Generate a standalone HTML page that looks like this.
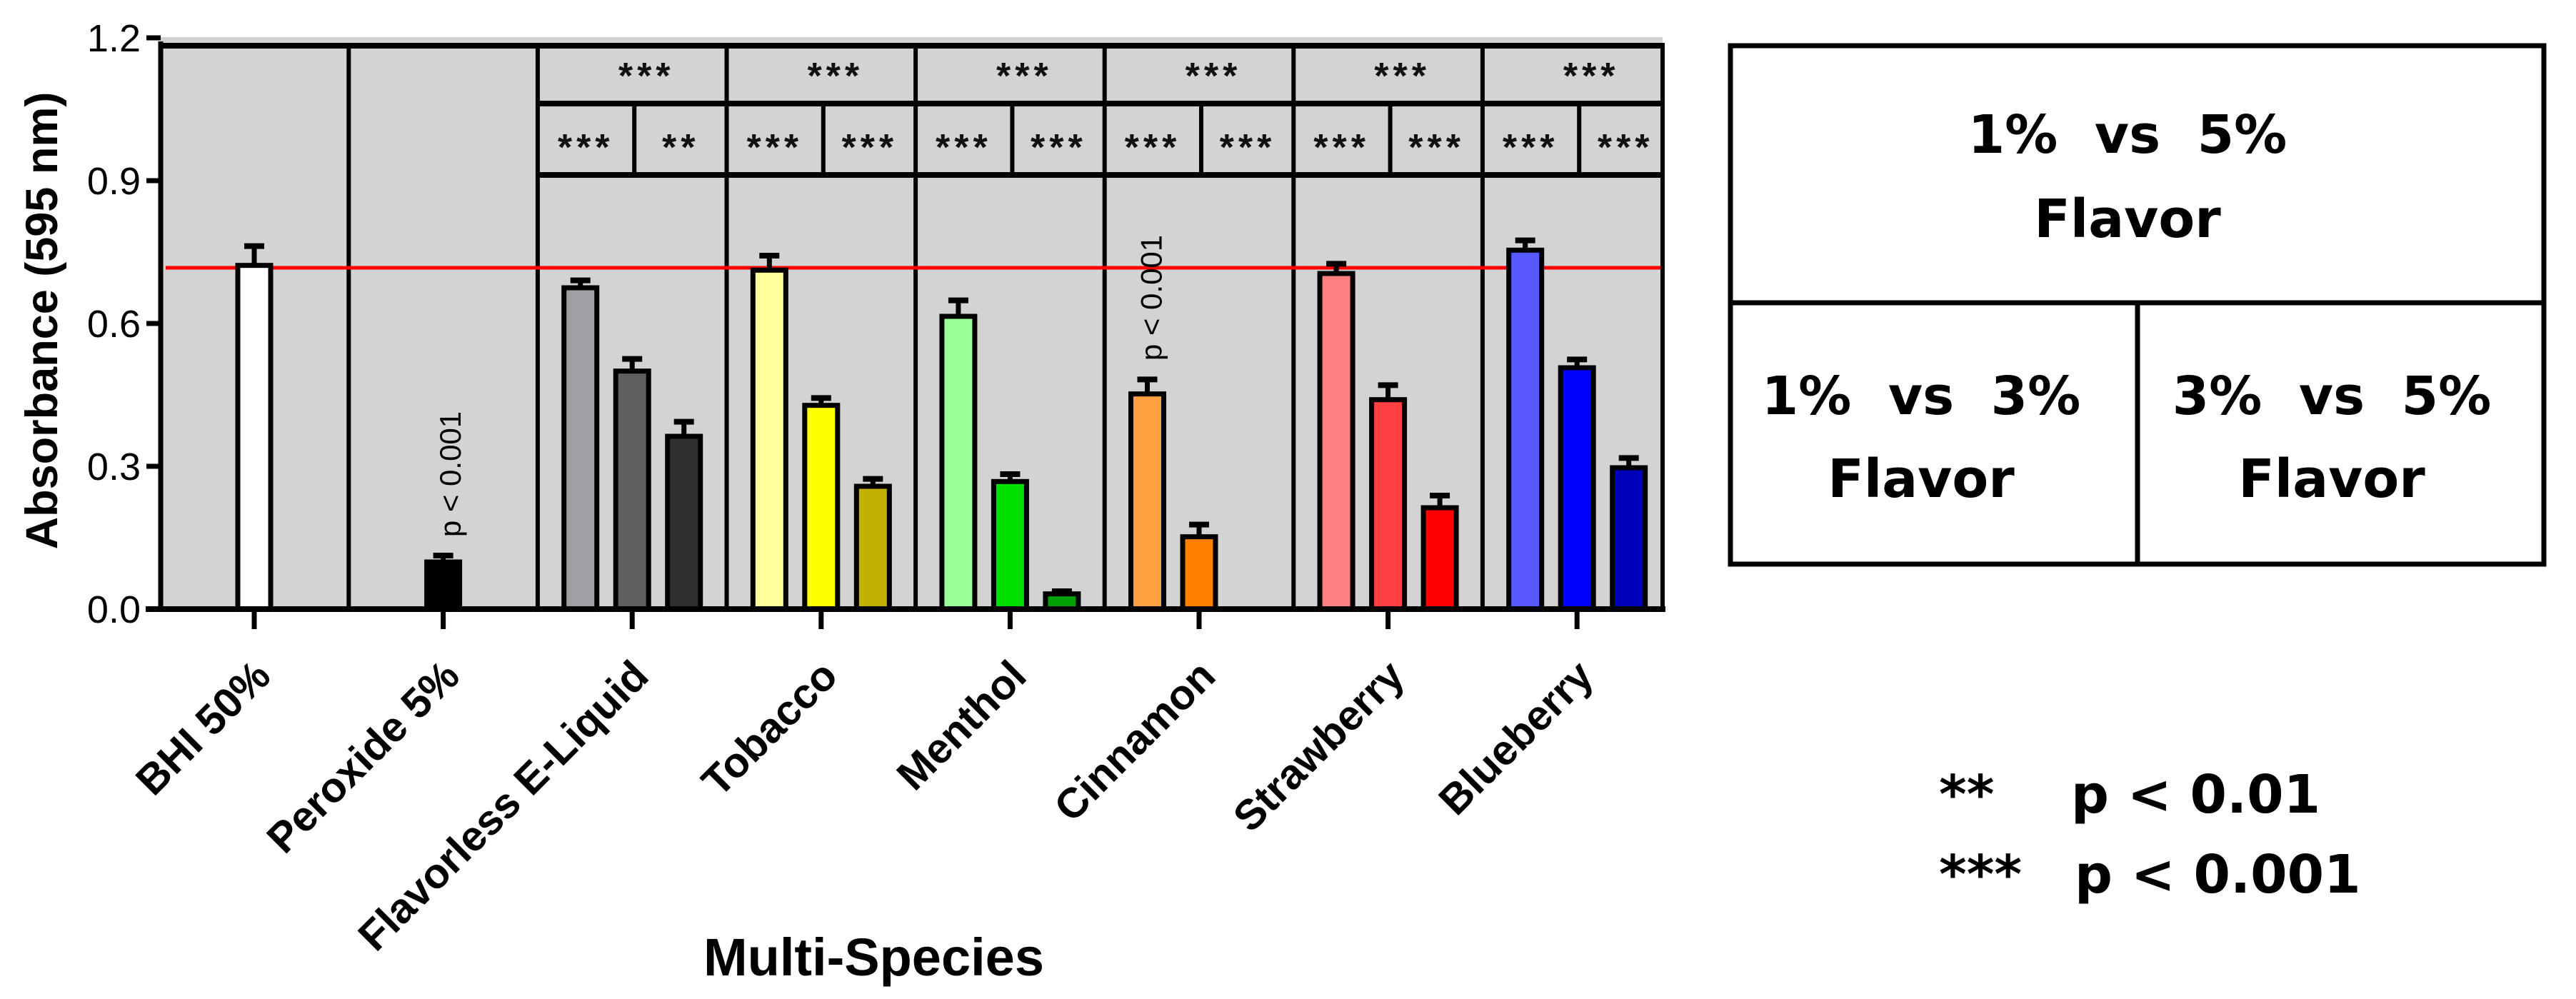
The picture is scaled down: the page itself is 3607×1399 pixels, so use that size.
<!DOCTYPE html>
<html><head><meta charset="utf-8"><style>
html,body{margin:0;padding:0;background:#fff;}
svg{display:block;font-family:"Liberation Sans",Arial,sans-serif;}
</style></head><body>
<svg id="chart" width="3607" height="1399" viewBox="0 0 3607 1399" xmlns="http://www.w3.org/2000/svg">
<g id="plot"></g>
<g id="legend">
  <rect x="2423" y="64" width="1139" height="726" fill="#fff" stroke="#000" stroke-width="7"/>
  <line x1="2423" y1="424" x2="3562" y2="424" stroke="#000" stroke-width="7"/>
  <line x1="2993" y1="424" x2="2993" y2="790" stroke="#000" stroke-width="7"/>
  <g font-weight="bold" font-size="74" text-anchor="middle" fill="#000" style="font-family:'DejaVu Sans','Liberation Sans',sans-serif">
    <text x="2979" y="214" xml:space="preserve">1%  vs  5%</text>
    <text x="2979" y="332">Flavor</text>
    <text x="2690" y="580" xml:space="preserve">1%  vs  3%</text>
    <text x="2690" y="696">Flavor</text>
    <text x="3265" y="580" xml:space="preserve">3%  vs  5%</text>
    <text x="3265" y="696">Flavor</text>
  </g>
  <g font-weight="bold" font-size="74" fill="#000" style="font-family:'DejaVu Sans','Liberation Sans',sans-serif">
    <text x="2715" y="1138">**</text>
    <text x="2900" y="1138">p &lt; 0.01</text>
    <text x="2715" y="1250">***</text>
    <text x="2905" y="1250">p &lt; 0.001</text>
  </g>
</g>
</svg>
<script>
const categories = ["BHI 50%","Peroxide 5%","Flavorless E-Liquid","Tobacco","Menthol","Cinnamon","Strawberry","Blueberry"];
const values1 = [0.722, 0.099, 0.675, 0.712, 0.615, 0.452, 0.705, 0.754];
const values3 = [null, null, 0.500, 0.428, 0.268, 0.152, 0.440, 0.507];
const values5 = [null, null, 0.363, 0.258, 0.032, null, 0.213, 0.297];
const errors1 = [0.045, 0.018, 0.020, 0.035, 0.038, 0.035, 0.025, 0.025];
const errors3 = [null, null, 0.030, 0.020, 0.020, 0.030, 0.035, 0.022];
const errors5 = [null, null, 0.035, 0.020, 0.010, null, 0.030, 0.025];
const colors1 = ["#ffffff","#000000","#a0a0a4","#ffff99","#99ff99","#ffa040","#ff8080","#5858ff"];
const colors3 = [null,null,"#606060","#ffff00","#00e000","#ff8000","#ff4040","#0000ff"];
const colors5 = [null,null,"#303030","#c0b000","#00a000",null,"#ff0000","#0000bb"];
const yTicks = [0, 0.3, 0.6, 0.9, 1.2];
const yTickLabels = ["0.0","0.3","0.6","0.9","1.2"];
const refValue = 0.717;
const sigTop = [null,null,"***","***","***","***","***","***"];
const sig13 = [null,null,"***","***","***","***","***","***"];
const sig35 = [null,null,"**","***","***","***","***","***"];
const pNotes = [null,"p < 0.001",null,null,null,"p < 0.001",null,null];

const NS="http://www.w3.org/2000/svg";
const plot=document.getElementById('plot');
const X0=225, X1=2328, Y0=853, YTOP=52;
const yScale=v=>Y0-(v/1.2)*(Y0-53);
const step=264.6, first=356;
const xCenter=i=>first+step*i;
function mk(tag,attrs,parent){const e=document.createElementNS(NS,tag);for(const k in attrs)e.setAttribute(k,attrs[k]);(parent||plot).appendChild(e);return e;}

let bg=mk('rect',{x:X0,y:YTOP,width:X1-X0,height:Y0-YTOP,fill:'#d3d3d3'});



for(let i=1;i<categories.length;i++){
  const x=xCenter(i)-step/2;
  const d=mk('line',{x1:x,y1:64,x2:x,y2:Y0,stroke:'#000','stroke-width':6});
  
  
}
let tb=mk('line',{x1:X0,y1:64,x2:X1+3,y2:64,stroke:'#000','stroke-width':8});


let rb=mk('line',{x1:X1,y1:64,x2:X1,y2:Y0,stroke:'#000','stroke-width':6});


const sigStart=xCenter(2)-step/2;
for(const yy of [145,245]){
  const l=mk('line',{x1:sigStart,y1:yy,x2:X1,y2:yy,stroke:'#000','stroke-width':8});
  
  
}
function stars(txt,x,y,name){
  const t=mk('text',{x:x,y:y,'text-anchor':'middle','font-size':52,'font-weight':'bold','letter-spacing':6,fill:'#111'});
  t.textContent=txt;
  
  
}
for(let i=0;i<categories.length;i++){
  if(!sigTop[i])continue;
  const c=xCenter(i);
  const sp=mk('line',{x1:c+3,y1:145,x2:c+3,y2:245,stroke:'#000','stroke-width':6});
  
  
  stars(sigTop[i],c+20,124,'sig-1v5-'+i);
  stars(sig13[i],c-65,224,'sig-1v3-'+i);
  stars(sig35[i],c+68,224,'sig-3v5-'+i);
}

let rl=mk('line',{x1:232,y1:yScale(refValue),x2:X1-3,y2:yScale(refValue),stroke:'#ff0000','stroke-width':5});



function bar(x,v,err,color,name){
  if(v==null)return;
  const top=yScale(v), etop=yScale(v+err);
  const r=mk('rect',{x:x-23,y:top,width:46,height:Y0-top,fill:color,stroke:'#000','stroke-width':7});
  
  
  const e=mk('line',{x1:x,y1:top,x2:x,y2:etop,stroke:'#000','stroke-width':7});
  
  
  const cap=mk('line',{x1:x-14,y1:etop+3,x2:x+14,y2:etop+3,stroke:'#000','stroke-width':8});
  
  
}
for(let i=0;i<categories.length;i++){
  const c=xCenter(i);
  if(values3[i]==null&&values5[i]==null&&i<2){bar(c,values1[i],errors1[i],colors1[i],'bar-'+i+'-single');continue;}
  bar(c-72.5,values1[i],errors1[i],colors1[i],'bar-'+i+'-1pct');
  bar(c,values3[i],errors3[i],colors3[i],'bar-'+i+'-3pct');
  bar(c+72.5,values5[i],errors5[i],colors5[i],'bar-'+i+'-5pct');
}

for(let i=0;i<categories.length;i++){
  if(!pNotes[i])continue;
  const x=xCenter(i)+(i===1?10:-67), y=i===1?664:417;
  const t=mk('text',{x:x,y:y,'font-size':42,'text-anchor':'middle',fill:'#000',transform:'rotate(-90 '+x+' '+y+')','dominant-baseline':'central'});
  t.textContent=pNotes[i];
  
  
}

let ya=mk('line',{x1:X0,y1:YTOP+6,x2:X0,y2:Y0+4,stroke:'#000','stroke-width':7});


let xa=mk('line',{x1:X0-21,y1:Y0,x2:X1+4,y2:Y0,stroke:'#000','stroke-width':8});


for(let k=0;k<yTicks.length;k++){
  const y=yScale(yTicks[k]);
  const t=mk('line',{x1:X0-20,y1:y,x2:X0,y2:y,stroke:'#000','stroke-width':7});
  
  
  const l=mk('text',{x:197,y:y+19,'text-anchor':'end','font-size':54,fill:'#000'});
  l.textContent=yTickLabels[k];
  
  
}
for(let i=0;i<categories.length;i++){
  const c=xCenter(i);
  const t=mk('line',{x1:c,y1:Y0,x2:c,y2:Y0+28,stroke:'#000','stroke-width':7});
  
  
  const ax=c+26, ay=950;
  const l=mk('text',{x:ax,y:ay,'text-anchor':'end','font-size':59,'font-weight':'bold',fill:'#000',transform:'rotate(-45 '+ax+' '+ay+')'});
  l.textContent=categories[i];
  
  
}
let yt=mk('text',{x:80,y:449,'text-anchor':'middle','font-size':63,'font-weight':'bold',fill:'#000',transform:'rotate(-90 80 449)'});
yt.textContent='Absorbance (595 nm)';


let xt=mk('text',{x:985,y:1366,'font-size':74,'font-weight':'bold',fill:'#000'});
xt.textContent='Multi-Species';


</script>
</body></html>
